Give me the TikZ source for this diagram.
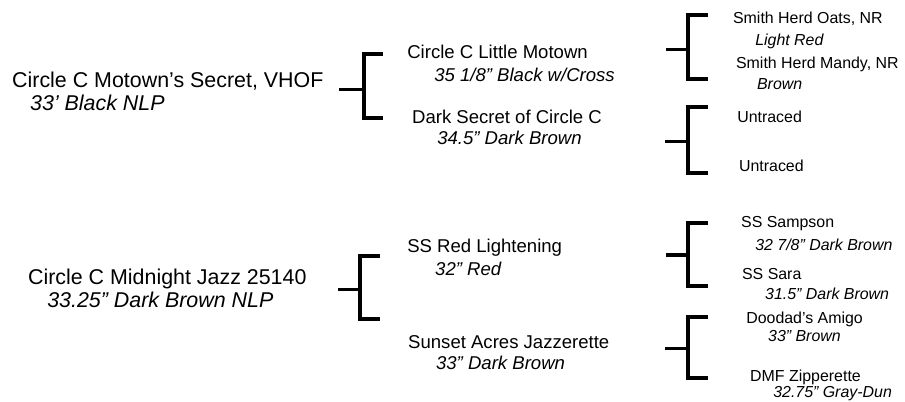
\documentclass[tikz,border=0pt]{standalone}
\usepackage{fontspec}
\setmainfont{Liberation Sans}
\usetikzlibrary{positioning}
\tikzset{
  horse/.style={inner sep=0pt, anchor=base west},
  gena/.style={horse, font=\fontsize{20.3}{24}\selectfont},
  genb/.style={horse, font=\fontsize{17.6}{21}\selectfont},
  genc/.style={horse, font=\fontsize{15.1}{18}\selectfont},
  stub/.style={line width=3.1pt},
  bracket/.style={line width=3.8pt, line join=miter},
}

\begin{document}
\begin{tikzpicture}
  \useasboundingbox (0,0) rectangle (30.167,13.367);

  % first generation
  \node[gena] (s)   at (0.40,10.45) {Circle C Motown’s Secret, VHOF};
  \node[gena] (s-c) at (1.00,9.70)  {\itshape 33’ Black NLP};
  \node[gena] (d)   at (0.93,3.90)  {Circle C Midnight Jazz 25140};
  \node[gena] (d-c) at (1.57,3.13)  {\itshape 33.25” Dark Brown NLP};

  % second generation
  \node[genb] (ss)   at (13.57,11.41) {Circle C Little Motown};
  \node[genb] (ss-c) at (14.47,10.65) {\itshape 35 1/8” Black w/Cross};
  \node[genb] (sd)   at (13.73,9.25)  {Dark Secret of Circle C};
  \node[genb] (sd-c) at (14.57,8.55)  {\itshape 34.5” Dark Brown};
  \node[genb] (ds)   at (13.57,4.95)  {SS Red Lightening};
  \node[genb] (ds-c) at (14.50,4.18)  {\itshape 32” Red};
  \node[genb] (dd)   at (13.60,1.75)  {Sunset Acres Jazzerette};
  \node[genb] (dd-c) at (14.53,1.05)  {\itshape 33” Dark Brown};

  % third generation
  \node[genc] (sss)   at (24.43,12.58) {Smith Herd Oats, NR};
  \node[genc] (sss-c) at (25.17,11.84) {\itshape Light Red};
  \node[genc] (ssd)   at (24.53,11.08) {Smith Herd Mandy, NR};
  \node[genc] (ssd-c) at (25.23,10.38) {\itshape Brown};
  \node[genc] (sds)   at (24.57,9.28)  {Untraced};
  \node[genc] (sdd)   at (24.63,7.64)  {Untraced};
  \node[genc] (dss)   at (24.70,5.78)  {SS Sampson};
  \node[genc] (dss-c) at (25.17,5.01)  {\itshape 32 7/8” Dark Brown};
  \node[genc] (dsd)   at (24.73,4.04)  {SS Sara};
  \node[genc] (dsd-c) at (25.50,3.38)  {\itshape 31.5” Dark Brown};
  \node[genc] (dds)   at (24.87,2.58)  {Doodad’s Amigo};
  \node[genc] (dds-c) at (25.60,1.98)  {\itshape 33” Brown};
  \node[genc] (ddd)   at (25.00,0.66)  {DMF Zipperette};
  \node[genc] (ddd-c) at (25.77,0.12)  {\itshape 32.75” Gray-Dun};

  % brackets: name / vertical x / top / stub / bottom / stub length / arm length
  \foreach \n/\x/\t/\m/\b/\l/\a in {
      s/12.123/11.567/10.39/9.433/0.813/0.633,
      d/12.01/4.823/3.723/2.723/0.733/0.657,
      ss/22.923/12.867/11.723/10.733/0.723/0.687,
      sd/22.923/9.79/8.643/7.61/0.756/0.687,
      ds/22.923/5.923/4.867/3.833/0.723/0.687,
      dd/22.923/2.81/1.757/0.757/0.756/0.687} {
    \coordinate (\n-in) at (\x-\l,\m);
    \coordinate (\n-up) at (\x+\a,\t);
    \coordinate (\n-dn) at (\x+\a,\b);
    \draw[stub] (\n-in) -- ++(\l,0);
    \draw[bracket] (\n-up) -- ++(-\a,0) |- (\n-dn);
  }
\end{tikzpicture}
\end{document}
